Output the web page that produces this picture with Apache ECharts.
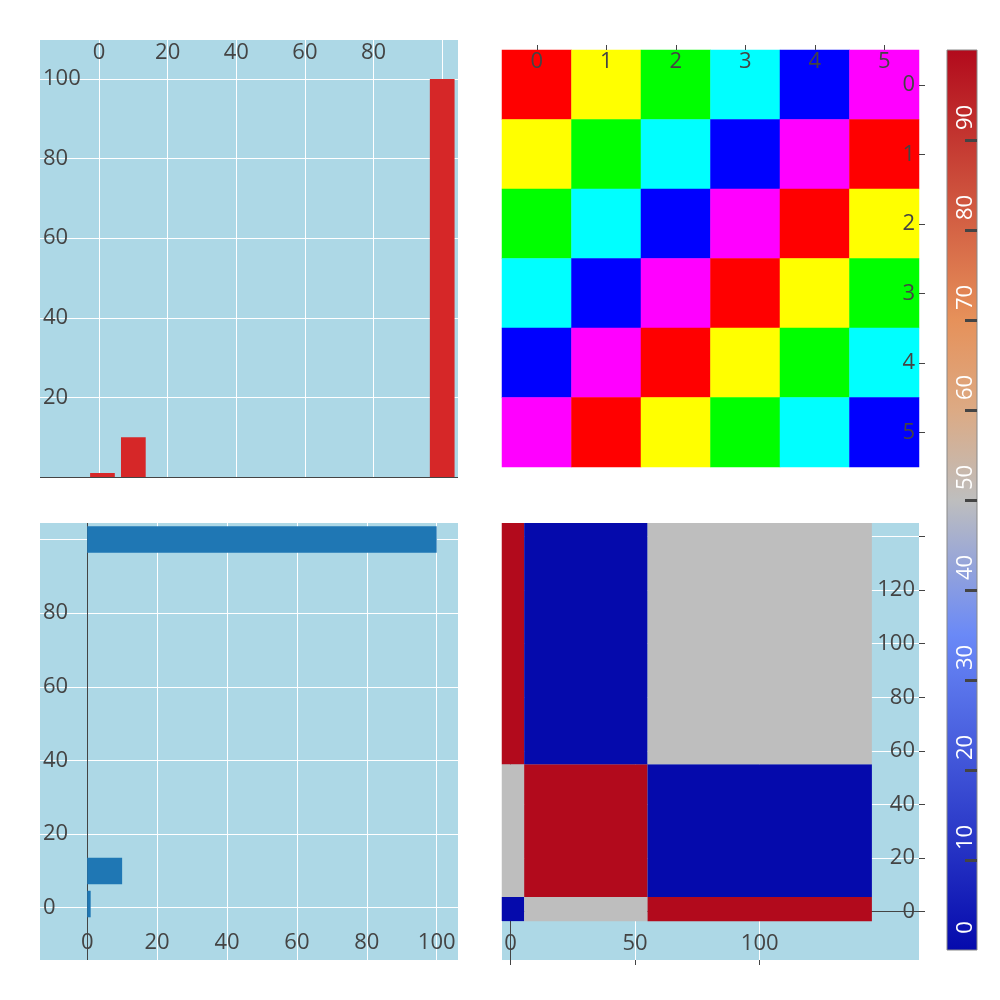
<!DOCTYPE html>
<html><head><meta charset="utf-8">
<script src="https://cdn.jsdelivr.net/npm/echarts@6/dist/echarts.min.js"></script>
<style>html,body{margin:0;padding:0;background:#fff}#c{width:1000px;height:1000px}</style>
</head><body><div id="c"></div>
<script>
// ---------- data ----------
// top-left: vertical bars
const vbarX = [1, 10, 100];
const vbarY = [1, 10, 100];
// bottom-left: horizontal bars
const hbarLen = [1, 10, 100];
const hbarPos = [1, 10, 100];
// top-right: 6x6 colour grid
const gridCats = ['0', '1', '2', '3', '4', '5'];
const gridColors = ['#ff0000', '#ffff00', '#00ff00', '#00ffff', '#0000ff', '#ff00ff'];
const gridIndex = [
  [0, 1, 2, 3, 4, 5],
  [1, 2, 3, 4, 5, 0],
  [2, 3, 4, 5, 0, 1],
  [3, 4, 5, 0, 1, 2],
  [4, 5, 0, 1, 2, 3],
  [5, 0, 1, 2, 3, 4]
];
// bottom-right heatmap (rows follow hmY)
const hmX = [1, 10, 100];
const hmY = [1, 10, 100];
const hmZ = [
  [0, 50, 100],
  [50, 100, 0],
  [100, 0, 50]
];
// colour scale
const csStops = [[0, [5, 10, 172]], [0.35, [106, 137, 247]], [0.5, [190, 190, 190]],
                 [0.6, [220, 170, 132]], [0.7, [230, 145, 90]], [1, [178, 10, 28]]];
const zMin = 0, zMax = 100;
// tick / label values
const tlXTicks = [0, 20, 40, 60, 80, 100];
const tlXLabels = [0, 20, 40, 60, 80];
const tlYTicks = [0, 20, 40, 60, 80, 100];
const tlYLabels = [20, 40, 60, 80, 100];
const blXTicks = [0, 20, 40, 60, 80, 100];
const blXLabels = [0, 20, 40, 60, 80, 100];
const blYTicks = [0, 20, 40, 60, 80, 100];
const blYLabels = [0, 20, 40, 60, 80];
const brXTicks = [0, 50, 100];
const brYTicks = [0, 20, 40, 60, 80, 100, 120, 140];
const brYLabels = [0, 20, 40, 60, 80, 100, 120];
const cbTicks = [10, 20, 30, 40, 50, 60, 70, 80, 90];
const cbLabels = [0, 10, 20, 30, 40, 50, 60, 70, 80, 90];

// ---------- helpers ----------
const FONT = 'Open Sans';
const TXT = '#444';
const BG = '#add8e6';
function rgb(c) { return 'rgb(' + c.map(Math.round).join(',') + ')'; }
function scaleColor(t) {
  for (let i = 1; i < csStops.length; i++) {
    if (t <= csStops[i][0]) {
      const a = csStops[i - 1], b = csStops[i];
      const f = (t - a[0]) / (b[0] - a[0]);
      return rgb(a[1].map((v, k) => v + (b[1][k] - v) * f));
    }
  }
  return rgb(csStops[csStops.length - 1][1]);
}
const vmColors = [];
for (let i = 0; i <= 20; i++) vmColors.push(scaleColor(i / 20));
function edges(v) {
  const e = [v[0] - (v[1] - v[0]) / 2];
  for (let i = 1; i < v.length; i++) e.push((v[i - 1] + v[i]) / 2);
  e.push(v[v.length - 1] + (v[v.length - 1] - v[v.length - 2]) / 2);
  return e;
}
function minGap(v) {
  const s = v.slice().sort((a, b) => a - b);
  let g = Infinity;
  for (let i = 1; i < s.length; i++) g = Math.min(g, s[i] - s[i - 1]);
  return g;
}
function lineColors(ticks, zeroDark) {
  return ticks.map(t => (zeroDark && t === 0) ? '#444' : '#ffffff');
}
const labelBase = { fontFamily: FONT, fontSize: 22, color: TXT };
const noLine = { show: false, onZero: false };

// data for series
const vBW = minGap(vbarX) * 0.8;
const hBW = minGap(hbarPos) * 0.8;
const tlData = vbarX.map((x, i) => [x, vbarY[i]]);
const blData = hbarLen.map((x, i) => [x, hbarPos[i]]);
const trData = [];
gridIndex.forEach((row, r) => row.forEach((c, k) => trData.push([k, r, c])));
const xe = edges(hmX), ye = edges(hmY);
const brData = [];
hmZ.forEach((row, r) => row.forEach((z, k) => brData.push([xe[k], xe[k + 1], ye[r], ye[r + 1], z])));

const option = {
  animation: false,
  backgroundColor: '#fff',
  grid: [
    { left: 40, top: 40, width: 418, height: 437, show: true, backgroundColor: BG, borderWidth: 0 },
    { left: 502, top: 50, width: 417, height: 417, show: false },
    { left: 40, top: 523, width: 418, height: 437, show: true, backgroundColor: BG, borderWidth: 0 },
    { left: 502, top: 523, width: 417, height: 437, show: true, backgroundColor: BG, borderWidth: 0 },
    { left: 947, top: 50, width: 30, height: 900, show: true, borderColor: '#888', borderWidth: 1,
      backgroundColor: { type: 'linear', x: 0, y: 1, x2: 0, y2: 0,
        colorStops: csStops.map(s => ({ offset: s[0], color: rgb(s[1]) })) } }
  ],
  xAxis: [
    { gridIndex: 0, type: 'value', position: 'top', min: -17.2, max: 104.6,
      axisLine: noLine, axisTick: { show: false, customValues: tlXTicks },
      splitLine: { show: true, lineStyle: { color: '#fff', width: 1 } },
      axisLabel: Object.assign({ inside: true, margin: 2, customValues: tlXLabels }, labelBase) },
    { gridIndex: 1, type: 'category', position: 'top', data: gridCats, z: 5,
      axisLine: noLine,
      axisTick: { show: true, alignWithLabel: true, length: 5, lineStyle: { color: TXT } },
      splitLine: { show: false },
      axisLabel: Object.assign({ inside: true, margin: 1 }, labelBase) },
    { gridIndex: 2, type: 'value', position: 'bottom', min: -13.5, max: 106.1,
      axisLine: noLine, axisTick: { show: false, customValues: blXTicks },
      splitLine: { show: true, lineStyle: { color: lineColors(blXTicks, true), width: 1 } },
      axisLabel: Object.assign({ inside: true, margin: 6, customValues: blXLabels }, labelBase) },
    { gridIndex: 3, type: 'value', position: 'bottom', min: -3.4, max: 163.9,
      axisLine: noLine,
      axisTick: { show: true, length: 5, lineStyle: { color: TXT }, customValues: brXTicks },
      splitLine: { show: true, lineStyle: { color: lineColors(brXTicks, true), width: 1 } },
      axisLabel: Object.assign({ inside: true, margin: 5, customValues: brXTicks }, labelBase) },
    { gridIndex: 4, type: 'value', show: false, min: -1, max: 1, axisLine: noLine }
  ],
  yAxis: [
    { gridIndex: 0, type: 'value', position: 'left', min: 0, max: 109.8,
      axisLine: noLine, axisTick: { show: false, customValues: tlYTicks },
      splitLine: { show: true, lineStyle: { color: lineColors(tlYTicks, true), width: 1 } },
      axisLabel: Object.assign({ inside: true, margin: 3, customValues: tlYLabels }, labelBase) },
    { gridIndex: 1, type: 'category', position: 'right', inverse: true, data: gridCats, z: 5,
      axisLine: noLine,
      axisTick: { show: true, alignWithLabel: true, length: 6, lineStyle: { color: TXT } },
      splitLine: { show: false },
      axisLabel: Object.assign({ inside: true, margin: 4 }, labelBase) },
    { gridIndex: 2, type: 'value', position: 'left', min: -14.2, max: 104.5,
      axisLine: noLine, axisTick: { show: false, customValues: blYTicks },
      splitLine: { show: true, lineStyle: { color: '#fff', width: 1 } },
      axisLabel: Object.assign({ inside: true, margin: 3, customValues: blYLabels }, labelBase) },
    { gridIndex: 3, type: 'value', position: 'right', min: -18, max: 145,
      axisLine: noLine,
      axisTick: { show: true, length: 6, lineStyle: { color: TXT }, customValues: brYTicks },
      splitLine: { show: true, lineStyle: { color: lineColors(brYTicks, true), width: 1 } },
      axisLabel: Object.assign({ inside: true, margin: 4, customValues: brYLabels }, labelBase) },
    { gridIndex: 4, type: 'value', position: 'right', min: zMin, max: zMax, z: 5,
      axisLine: noLine,
      axisTick: { show: true, inside: true, length: 12, lineStyle: { color: TXT, width: 3 }, customValues: cbTicks },
      splitLine: { show: false },
      axisLabel: Object.assign({}, labelBase, { color: '#fff', inside: true, rotate: 90, margin: 11,
        align: 'center', verticalAlign: 'middle', padding: [0, 0, 0, 45], customValues: cbLabels }) }
  ],
  visualMap: [
    { type: 'piecewise', show: false, seriesIndex: 1, dimension: 2,
      pieces: gridColors.map((c, i) => ({ value: i, color: c })) },
    { type: 'continuous', show: false, seriesIndex: 3, dimension: 4, min: zMin, max: zMax,
      inRange: { color: vmColors } }
  ],
  series: [
    { type: 'custom', xAxisIndex: 0, yAxisIndex: 0, data: tlData,
      renderItem: function (params, api) {
        const x = api.value(0), h = api.value(1);
        const p0 = api.coord([x - vBW / 2, h]);
        const p1 = api.coord([x + vBW / 2, 0]);
        return { type: 'rect', shape: { x: p0[0], y: p0[1], width: p1[0] - p0[0], height: p1[1] - p0[1] },
                 style: { fill: '#d62728' } };
      } },
    { type: 'heatmap', xAxisIndex: 1, yAxisIndex: 1, data: trData, itemStyle: { borderWidth: 0 } },
    { type: 'custom', xAxisIndex: 2, yAxisIndex: 2, data: blData,
      renderItem: function (params, api) {
        const len = api.value(0), y = api.value(1);
        const p0 = api.coord([0, y + hBW / 2]);
        const p1 = api.coord([len, y - hBW / 2]);
        return { type: 'rect', shape: { x: p0[0], y: p0[1], width: p1[0] - p0[0], height: p1[1] - p0[1] },
                 style: { fill: '#1f77b4' } };
      } },
    { type: 'custom', xAxisIndex: 3, yAxisIndex: 3, data: brData,
      renderItem: function (params, api) {
        const p0 = api.coord([api.value(0), api.value(3)]);
        const p1 = api.coord([api.value(1), api.value(2)]);
        return { type: 'rect', shape: { x: p0[0], y: p0[1], width: p1[0] - p0[0], height: p1[1] - p0[1] },
                 style: { fill: api.visual('color') } };
      } }
  ]
};
const chart = echarts.init(document.getElementById('c'), null, { renderer: 'canvas' });
chart.setOption(option);
</script>
</body></html>
